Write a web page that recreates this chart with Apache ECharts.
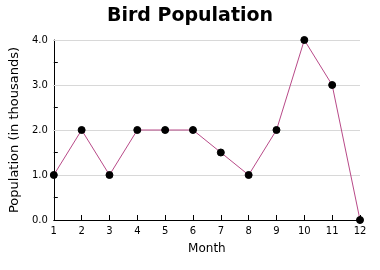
<!DOCTYPE html>
<html><head><meta charset="utf-8">
<script src="https://cdn.jsdelivr.net/npm/echarts@6/dist/echarts.min.js"></script>
<style>html,body{margin:0;padding:0;background:#fff}#c{width:380px;height:270px}</style>
</head><body><div id="c"></div>
<script>
var months = ['1','2','3','4','5','6','7','8','9','10','11','12'];
var population = [1, 2, 1, 2, 2, 2, 1.5, 1, 2, 4, 3, 0];
var yTicks = [0, 1, 2, 3, 4];

var chart = echarts.init(document.getElementById('c'), null, {renderer: 'canvas'});
var yMin = yTicks[0], yMax = yTicks[yTicks.length - 1];
chart.setOption({
  animation: false,
  backgroundColor: '#fff',
  title: {
    text: 'Bird Population', left: 'center', top: 2,
    textStyle: {fontFamily: 'DejaVu Sans', fontWeight: 'bold', fontSize: 19, color: '#000'}
  },
  grid: {left: 50, right: 20, top: 40, bottom: 50},
  xAxis: {
    type: 'category', data: months, boundaryGap: false,
    name: 'Month', nameLocation: 'middle', nameGap: 23,
    nameTextStyle: {fontFamily: 'DejaVu Sans', fontSize: 12, color: '#000'},
    axisLine: {lineStyle: {color: '#000', width: 1}},
    axisTick: {inside: true, length: 5, lineStyle: {color: '#000'}},
    axisLabel: {fontFamily: 'DejaVu Sans', fontSize: 10, color: '#000', margin: 6},
    splitLine: {show: false}
  },
  yAxis: {
    type: 'value', min: yMin, max: yMax, interval: 0.5,
    name: 'Population (in thousands)', nameLocation: 'middle', nameGap: 32,
    nameTextStyle: {fontFamily: 'DejaVu Sans', fontSize: 13, color: '#000'},
    axisLine: {show: true, lineStyle: {color: '#000', width: 1}},
    axisTick: {show: true, inside: true, length: 4, lineStyle: {color: '#000'}},
    axisLabel: {fontFamily: 'DejaVu Sans', fontSize: 10, color: '#000', margin: 6,
      formatter: function (v) { return yTicks.indexOf(v) >= 0 ? v.toFixed(1) : ''; }},
    splitLine: {show: false}
  },
  series: [{
    type: 'line', data: population, z: 3,
    lineStyle: {color: '#b84a88', width: 1},
    symbol: 'circle', symbolSize: 7,
    itemStyle: {color: '#000', borderColor: '#000'},
    markLine: {
      silent: true, symbol: 'none', label: {show: false}, z: 1,
      lineStyle: {color: '#d8d8d8', width: 1, type: 'solid'},
      data: yTicks.slice(1).map(function (v) { return {yAxis: v}; })
    }
  }]
});
</script></body></html>
